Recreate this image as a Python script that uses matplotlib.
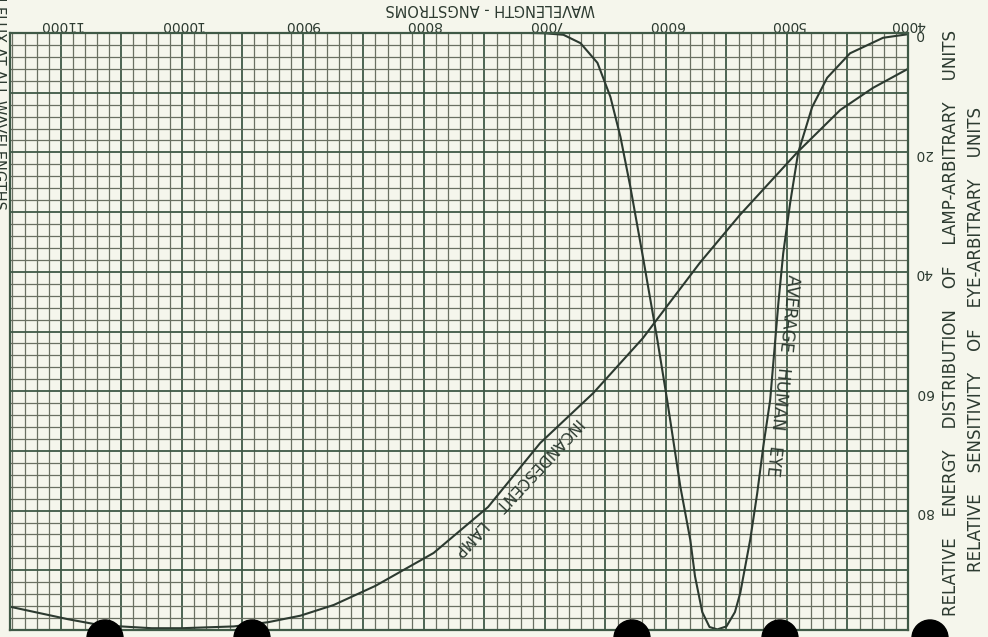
import numpy as np
import matplotlib
matplotlib.use("Agg")
import matplotlib.pyplot as plt
from matplotlib.patches import Circle
from matplotlib.ticker import FuncFormatter

# wavelength (angstroms) and relative energy of the incandescent lamp
lamp_wl = [4000, 4290, 4560, 4920, 5390, 5720, 6090, 6190, 6600, 7040,
           7470, 7920, 8400, 8744, 9020, 9289, 9570, 10000, 10250, 10670,
           10939, 11420]
lamp_val = [6.0, 9.2, 12.9, 20.1, 30.5, 38.5, 48.4, 51.1, 60.3, 68.7,
            79.4, 87.1, 92.6, 95.8, 97.6, 98.7, 99.4, 99.7, 99.7, 99.2,
            98.2, 96.1]

# relative sensitivity of the average human eye
eye_wl = [4000, 4206, 4479, 4668, 4792, 4908, 4974, 5031, 5070, 5139, 5196,
          5246, 5304, 5386, 5430, 5500, 5576, 5640, 5700, 5760, 5799, 5881,
          5990, 6071, 6186, 6294, 6376, 6459, 6566, 6706, 6847, 7000, 7119]
eye_val = [0.2, 0.8, 3.4, 7.5, 12.4, 20.1, 28.5, 36.9, 45.0, 61.5, 69.3,
           77.1, 84.9, 93.8, 97.0, 99.4, 99.9, 99.5, 97.0, 91.0, 84.9, 76.0,
           61.5, 51.4, 38.0, 25.8, 17.4, 10.7, 5.0, 1.7, 0.3, 0.05, 0.0]

wl_ticks = [4000, 5000, 6000, 7000, 8000, 9000, 10000, 11000]
val_ticks = [0, 20, 40, 60, 80]

paper = "#f5f6ec"
ink = "#2c3a30"
grid_minor = "#6a7062"
grid_major = "#3f5946"

fig = plt.figure(figsize=(9.88, 6.37), dpi=100, facecolor=paper)
ax = fig.add_axes([10 / 988, 7 / 637, 898 / 988, 597 / 637])
ax.set_facecolor(paper)

ax.set_xlim(11420, 4000)
ax.set_ylim(100, 0)

ax.set_xticks(np.arange(4000, 11500, 500))
ax.set_xticks(np.arange(4000, 11500, 100), minor=True)
ax.set_yticks(np.arange(0, 101, 10))
ax.set_yticks(np.arange(0, 101, 2), minor=True)
ax.grid(which="minor", color=grid_minor, lw=0.9)
ax.grid(which="major", color=grid_major, lw=1.3)
ax.set_axisbelow(True)

ax.xaxis.tick_top()
ax.yaxis.tick_right()
ax.xaxis.set_major_formatter(FuncFormatter(
    lambda v, p: f"{int(v)}" if int(v) in wl_ticks else ""))
ax.yaxis.set_major_formatter(FuncFormatter(
    lambda v, p: f"{int(v)}" if int(v) in val_ticks else ""))
ax.tick_params(which="both", length=0, colors=ink, labelsize=10)
ax.tick_params(axis="x", labelrotation=180, pad=1)
ax.tick_params(axis="y", labelrotation=180, pad=5)
for s in ax.spines.values():
    s.set_color(grid_major)
    s.set_linewidth(1.6)

ax.plot(lamp_wl, lamp_val, color=ink, lw=1.5)
ax.plot(eye_wl, eye_val, color=ink, lw=1.5)

ax.text(7218, 76.0, "INCANDESCENT    LAMP", rotation=227, color=ink,
        fontsize=11, ha="center", va="center", rotation_mode="anchor")
ax.text(5040, 57.3, "AVERAGE   HUMAN   EYE", rotation=264, color=ink,
        fontsize=12, ha="center", va="center", rotation_mode="anchor")

fig.text(490 / 988, 1 - 9 / 637, "WAVELENGTH - ANGSTROMS", rotation=180,
         color=ink, fontsize=10.5, ha="center", va="center")
fig.text(951 / 988, 1 - 323 / 637,
         "RELATIVE    ENERGY    DISTRIBUTION    OF    LAMP-ARBITRARY    UNITS",
         rotation=90, color=ink, fontsize=12, ha="center", va="center")
fig.text(976 / 988, 1 - 340 / 637,
         "RELATIVE    SENSITIVITY    OF    EYE-ARBITRARY    UNITS",
         rotation=90, color=ink, fontsize=12, ha="center", va="center")
fig.text(-2 / 988, 1 - 210 / 637, "MAXIMUM FLUX AT ALL WAVELENGTHS",
         rotation=270, color=ink, fontsize=10.5, ha="center", va="bottom")

# mounting holes along the lower edge
for cx in [105, 252, 632, 780, 930]:
    fig.patches.append(Circle((cx, -1), 18, transform=None,
                              color="black", zorder=10))

fig.savefig("out.png", dpi=100, facecolor=paper)
